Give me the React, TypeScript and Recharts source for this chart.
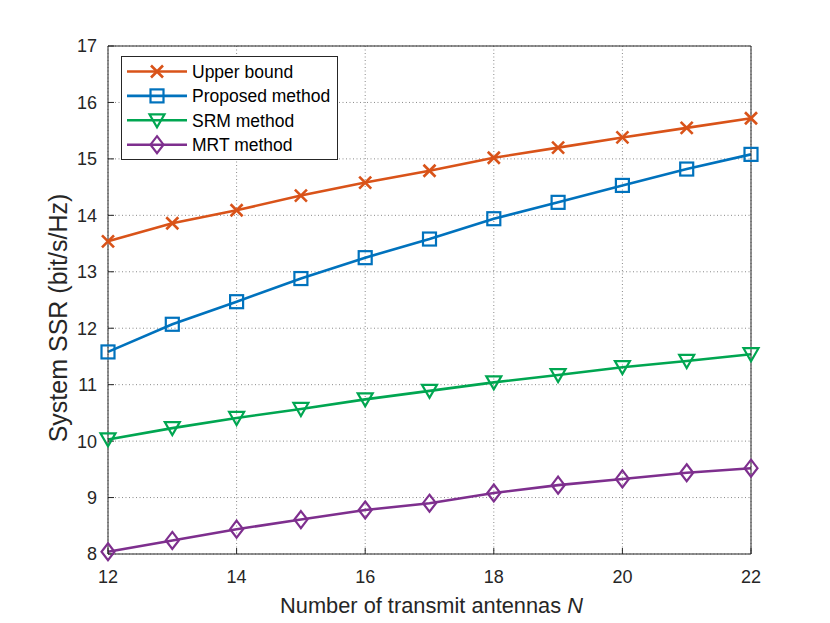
import { CartesianGrid, Line, LineChart, XAxis, YAxis } from "recharts";

const antennas = [12, 13, 14, 15, 16, 17, 18, 19, 20, 21, 22];
const upperBound = [13.54, 13.86, 14.09, 14.35, 14.58, 14.79, 15.02, 15.2, 15.38, 15.55, 15.72];
const proposed = [11.58, 12.07, 12.47, 12.88, 13.25, 13.58, 13.94, 14.23, 14.53, 14.82, 15.08];
const srm = [10.03, 10.23, 10.41, 10.57, 10.74, 10.89, 11.04, 11.17, 11.31, 11.42, 11.54];
const mrt = [8.04, 8.24, 8.44, 8.61, 8.78, 8.9, 9.08, 9.22, 9.33, 9.44, 9.52];

const xTicks = [12, 14, 16, 18, 20, 22];
const yTicks = [8, 9, 10, 11, 12, 13, 14, 15, 16, 17];

type Shape = "cross" | "square" | "triangle" | "diamond";

const series: { key: string; name: string; color: string; shape: Shape }[] = [
  { key: "upper", name: "Upper bound", color: "#D95319", shape: "cross" },
  { key: "proposed", name: "Proposed method", color: "#0072BD", shape: "square" },
  { key: "srm", name: "SRM method", color: "#00A651", shape: "triangle" },
  { key: "mrt", name: "MRT method", color: "#7E2F8E", shape: "diamond" },
];

const data = antennas.map((n, i) => ({
  n,
  upper: upperBound[i],
  proposed: proposed[i],
  srm: srm[i],
  mrt: mrt[i],
}));

const FONT = '"Liberation Sans", Arial, Helvetica, sans-serif';
const INK = "#262626";

function Marker({ cx, cy, shape, color }: { cx: number; cy: number; shape: Shape; color: string }) {
  const common = { stroke: color, strokeWidth: 2.2, fill: "none" };
  if (shape === "cross") {
    return (
      <g {...common} strokeWidth={2.6}>
        <line x1={cx - 6} y1={cy - 6} x2={cx + 6} y2={cy + 6} />
        <line x1={cx - 6} y1={cy + 6} x2={cx + 6} y2={cy - 6} />
      </g>
    );
  }
  if (shape === "square") {
    return <rect x={cx - 6.5} y={cy - 6.5} width={13} height={13} {...common} />;
  }
  if (shape === "triangle") {
    return <polygon points={`${cx - 7.5},${cy - 6} ${cx + 7.5},${cy - 6} ${cx},${cy + 7}`} {...common} />;
  }
  return <polygon points={`${cx},${cy - 8.5} ${cx + 6.5},${cy} ${cx},${cy + 8.5} ${cx - 6.5},${cy}`} {...common} />;
}

function LegendBox() {
  return (
    <svg
      width={217}
      height={104}
      style={{ position: "absolute", left: 121, top: 56, background: "#fff" }}
    >
      <rect x={0.5} y={0.5} width={216} height={103} fill="#fff" stroke={INK} strokeWidth={1} />
      {series.map((s, i) => {
        const y = 15.5 + i * 24.4;
        return (
          <g key={s.key}>
            <line x1={6} y1={y} x2={66} y2={y} stroke={s.color} strokeWidth={2.6} />
            <Marker cx={36} cy={y} shape={s.shape} color={s.color} />
            <text x={71} y={y + 6.3} fontFamily={FONT} fontSize={17.5} fill="#000">
              {s.name}
            </text>
          </g>
        );
      })}
    </svg>
  );
}

const tickStyle = { fill: INK, fontSize: 18, fontFamily: FONT };

export default function App() {
  return (
    <div style={{ position: "absolute", left: 0, top: 0, width: 830, height: 623, background: "#fff" }}>
      <LineChart width={830} height={623} data={data} margin={{ top: 45, right: 78, bottom: 0, left: 0 }}>
        <CartesianGrid stroke="#8a8a8a" strokeDasharray="1 2.5" strokeWidth={1} />
        <XAxis
          dataKey="n"
          type="number"
          domain={[12, 22]}
          ticks={xTicks}
          height={69}
          stroke={INK}
          tickSize={-6}
          tickMargin={22}
          tick={tickStyle}
          label={{
            content: ({ viewBox }: any) => (
              <text
                x={viewBox.x + viewBox.width / 2 + 2}
                y={viewBox.y + 59}
                textAnchor="middle"
                fontFamily={FONT}
                fontSize={21.8}
                fill={INK}
              >
                Number of transmit antennas <tspan fontStyle="italic">N</tspan>
              </text>
            ),
          }}
        />
        <XAxis
          xAxisId="top"
          orientation="top"
          type="number"
          domain={[12, 22]}
          ticks={xTicks}
          height={1}
          stroke={INK}
          tickSize={-6}
          tickFormatter={() => ""}
        />
        <YAxis
          type="number"
          domain={[8, 17]}
          ticks={yTicks}
          width={108}
          stroke={INK}
          tickSize={-6}
          tickMargin={17}
          tick={tickStyle}
          label={{
            content: ({ viewBox }: any) => (
              <text
                x={67}
                y={viewBox.y + viewBox.height / 2 + 18}
                transform={`rotate(-90 67 ${viewBox.y + viewBox.height / 2 + 18})`}
                textAnchor="middle"
                fontFamily={FONT}
                fontSize={25}
                fill={INK}
              >
                System SSR (bit/s/Hz)
              </text>
            ),
          }}
        />
        <YAxis
          yAxisId="right"
          orientation="right"
          type="number"
          domain={[8, 17]}
          ticks={yTicks}
          width={1}
          stroke={INK}
          tickSize={-6}
          tickFormatter={() => ""}
        />
        {series.map((s) => (
          <Line
            key={s.key}
            dataKey={s.key}
            name={s.name}
            stroke={s.color}
            strokeWidth={2.6}
            isAnimationActive={false}
            dot={(p: any) => (
              <Marker key={`${s.key}-${p.index}`} cx={p.cx} cy={p.cy} shape={s.shape} color={s.color} />
            )}
            activeDot={false}
          />
        ))}
      </LineChart>
      <LegendBox />
    </div>
  );
}
